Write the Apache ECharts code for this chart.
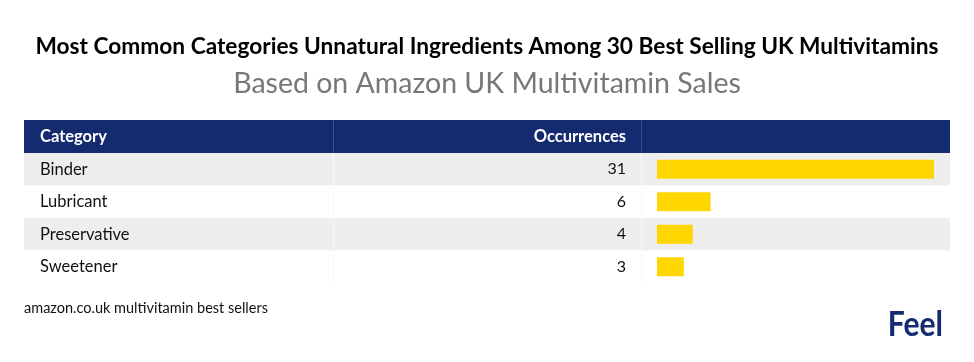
<!DOCTYPE html>
<html><head><meta charset="utf-8">
<script src="https://cdn.jsdelivr.net/npm/echarts@6/dist/echarts.min.js"></script>
<style>html,body{margin:0;padding:0;background:#fff}#c{width:974px;height:362px}</style>
</head><body><div id="c"></div>
<script>
const categories = ['Binder', 'Lubricant', 'Preservative', 'Sweetener'];
const occurrences = [31, 6, 4, 3];
const headers = ['Category', 'Occurrences'];
const titleText = 'Most Common Categories Unnatural Ingredients Among 30 Best Selling UK Multivitamins';
const subtitleText = 'Based on Amazon UK Multivitamin Sales';
const sourceText = 'amazon.co.uk multivitamin best sellers';
const brandText = 'Feel';

const navy = '#142B6F';
const gold = '#FFD600';
const font = 'Lato';
const tableTop = 153, rowH = 32.5;

const chart = echarts.init(document.getElementById('c'));
chart.setOption({
  animation: false,
  title: [
    {text: titleText, left: 'center', top: 30,
     textStyle: {fontFamily: font, fontWeight: 'bold', fontSize: 22.7, color: '#000'}},
    {text: subtitleText, left: 'center', top: 64,
     textStyle: {fontFamily: font, fontWeight: 'normal', fontSize: 28.5, color: '#777'}}
  ],
  grid: [
    {left: 24, right: 24, top: tableTop, height: rowH * categories.length},
    {left: 657, width: 277, top: tableTop, height: rowH * categories.length}
  ],
  xAxis: [
    {gridIndex: 0, type: 'value', show: false, min: 0, max: 1},
    {gridIndex: 1, type: 'value', show: false, min: 0, max: Math.max(...occurrences)}
  ],
  yAxis: [
    {gridIndex: 0, type: 'category', data: categories, inverse: true,
     axisLine: {show: false}, axisTick: {show: false}, splitLine: {show: false},
     splitArea: {show: true, areaStyle: {color: ['#EEEEEE', '#FFFFFF']}},
     axisLabel: {inside: true, margin: 16, fontFamily: font, fontSize: 16.5, color: '#111'}},
    {gridIndex: 1, type: 'category', data: categories, inverse: true, show: false}
  ],
  series: [{
    type: 'bar', xAxisIndex: 1, yAxisIndex: 1, data: occurrences,
    barWidth: 19, itemStyle: {color: gold},
    label: {show: true, position: 'left', distance: 31, fontFamily: font, fontSize: 16, color: '#111'}
  }],
  graphic: [
    {type: 'rect', shape: {x: 24, y: 120, width: 926, height: 33}, style: {fill: navy}, z: 10},
    {type: 'line', shape: {x1: 333.5, y1: 120, x2: 333.5, y2: 153}, style: {stroke: '#3C4F8C', lineWidth: 1}, z: 11},
    {type: 'line', shape: {x1: 641.5, y1: 120, x2: 641.5, y2: 153}, style: {stroke: '#3C4F8C', lineWidth: 1}, z: 11},
    {type: 'line', shape: {x1: 333.5, y1: 153, x2: 333.5, y2: 283}, style: {stroke: '#F8F8F8', lineWidth: 1}, z: 1},
    {type: 'line', shape: {x1: 641.5, y1: 153, x2: 641.5, y2: 283}, style: {stroke: '#F8F8F8', lineWidth: 1}, z: 1},
    {type: 'text', x: 40, y: 136.5, style: {text: headers[0], fill: '#fff', font: 'bold 16.5px Lato', textVerticalAlign: 'middle'}, z: 12},
    {type: 'text', x: 626, y: 136.5, style: {text: headers[1], fill: '#fff', font: 'bold 16.5px Lato', textAlign: 'right', textVerticalAlign: 'middle'}, z: 12},
    {type: 'text', x: 24, y: 308, style: {text: sourceText, fill: '#111', font: '14.5px Lato', textVerticalAlign: 'middle'}, z: 12},
    {type: 'text', x: 943, y: 325, scaleY: 1.12, style: {text: brandText, fill: navy, font: 'bold 30px Lato', textAlign: 'right', textVerticalAlign: 'middle'}, z: 12}
  ]
});
</script></body></html>
